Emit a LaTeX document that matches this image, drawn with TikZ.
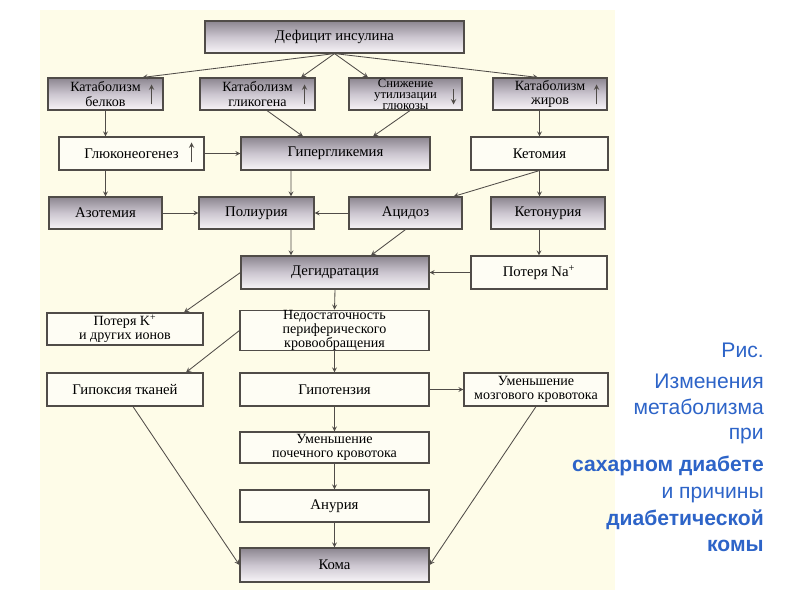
\documentclass[tikz,border=0pt]{standalone}
\usepackage{fontspec}
\setmainfont{Liberation Serif}
\newfontfamily\capfont{Liberation Sans}
\usetikzlibrary{arrows,positioning,calc}
\definecolor{cream}{RGB}{254,252,232}
\definecolor{plainfill}{RGB}{254,253,244}
\definecolor{boxline}{RGB}{80,76,72}
\definecolor{shadetop}{RGB}{140,134,144}
\definecolor{shademid}{RGB}{204,198,208}
\definecolor{shadebot}{RGB}{248,245,248}
\definecolor{capblue}{RGB}{45,100,200}
\newcommand{\px}{0.025cm}

\begin{document}
\begin{tikzpicture}[
  x=\px, y=-\px,
  box/.style={draw=boxline, fill=plainfill, line width=0.8pt, align=center, inner sep=1pt,
    font=\fontsize{10.5}{11.5}\selectfont},
  shadebox/.style={box, top color=shadetop, bottom color=shadebot, middle color=shademid},
  twoline/.style={inner sep=0.5pt, font=\fontsize{10}{10}\selectfont},
  threeline/.style={inner sep=0pt, font=\fontsize{9}{7.8}\selectfont},
  sz/.style 2 args={minimum width=#1*\px, minimum height=#2*\px},
  ptr/.style={->, >=stealth, line width=0.6pt, draw=boxline},
  updn/.style={->, >=stealth, line width=0.7pt, draw=boxline},
  caption/.style={align=right, inner sep=0pt, text=capblue,
    font=\capfont\fontsize{15}{18}\selectfont}
]
\fill[white] (0,0) rectangle (800,600);
\fill[cream] (40,10) rectangle (615,590);
\useasboundingbox (0,0) rectangle (800,600);

\node[shadebox, sz={259}{32}] (def) at (334.5,37) {Дефицит инсулина};
\node[shadebox, twoline, sz={115}{32}] (belk) at (105.5,94) {Катаболизм\\белков};
\node[shadebox, twoline, sz={115}{32}] (glik) at (257.5,94) {Катаболизм\\гликогена};
\node[shadebox, threeline, sz={113}{32}] (sniz) at (405.5,94) {Снижение\\утилизации\\глюкозы};
\node[shadebox, twoline, sz={114}{32}] (zhir) at (550,94) {Катаболизм\\жиров};
\node[box, sz={145}{33}] (gluk) at (131.5,153.5) {Глюконеогенез};
\node[shadebox, sz={189}{33}] (hyper) at (335.5,153.5) {Гипергликемия};
\node[box, sz={137}{33}] (ketom) at (539.5,153.5) {Кетомия};
\node[shadebox, sz={113}{32}] (azot) at (105.5,213) {Азотемия};
\node[shadebox, sz={115}{32}] (poli) at (256.5,213) {Полиурия};
\node[shadebox, sz={113}{32}] (acid) at (405.5,213) {Ацидоз};
\node[shadebox, sz={114}{32}] (ketur) at (548,213) {Кетонурия};
\node[shadebox, sz={188}{33}] (dehyd) at (335,272.5) {Дегидратация};
\node[box, sz={136}{33}] (na) at (539,272.5) {Потеря Na\textsuperscript{+}};
\node[box, twoline, sz={156}{32}] (kpot) at (125,329) {Потеря K\textsuperscript{+}\\и других ионов};
\node[box, threeline, font=\fontsize{10}{8.6}\selectfont, sz={189}{35}] (nedost) at (334.5,330.5) {Недостаточность\\периферического\\кровообращения};
\node[box, sz={156}{33}] (hypox) at (125,389.5) {Гипоксия тканей};
\node[box, sz={189}{33}] (hypot) at (334.5,389.5) {Гипотензия};
\node[box, twoline, sz={144}{33}] (mozg) at (536,389.5) {Уменьшение\\мозгового кровотока};
\node[box, twoline, sz={189}{31}] (poch) at (334.5,447.5) {Уменьшение\\почечного кровотока};
\node[box, sz={189}{32}] (anur) at (334.5,506) {Анурия};
\node[shadebox, sz={189}{34}] (koma) at (334.5,565) {Кома};

\draw[updn] ($(belk.north east)+(-12,27)$) -- ++(0,-20);
\draw[updn] ($(glik.north east)+(-11,27)$) -- ++(0,-20);
\draw[updn] ($(sniz.north east)+(-9,12)$) -- ++(0,15);
\draw[updn] ($(zhir.north east)+(-11,27)$) -- ++(0,-20);
\draw[updn] ($(gluk.north east)+(-13,26)$) -- ++(0,-20);

\draw[ptr] (def.south) -- ($(belk.north)+(37,0)$);
\draw[ptr] (def.south) -- ($(glik.north)+(43.5,0)$);
\draw[ptr] (def.south) -- ($(sniz.north)+(-37.5,0)$);
\draw[ptr] (def.south) -- ($(zhir.north)+(-12,0)$);
\draw[ptr] (belk.south) -- (belk.south |- gluk.north);
\draw[ptr] ($(glik.south)+(9.5,0)$) -- ($(hyper.north)+(-32.5,0)$);
\draw[ptr] ($(sniz.south)+(4.5,0)$) -- ($(hyper.north)+(37.5,0)$);
\draw[ptr] (ketom.north |- zhir.south) -- (ketom.north);
\draw[ptr] (gluk.east) -- (hyper.west);
\draw[ptr] (azot.north |- gluk.south) -- (azot.north);
\draw[ptr] ($(hyper.south)+(-44.5,0)$) -- ($(poli.north)+(34.5,0)$);
\draw[ptr] (ketom.south) -- ($(acid.north east)+(-9,0)$);
\draw[ptr] (ketom.south) -- (ketom.south |- ketur.north);
\draw[ptr] (azot.east) -- (poli.west);
\draw[ptr] (acid.west) -- (poli.east);
\draw[ptr] ($(poli.south)+(34.5,0)$) -- ($(dehyd.north)+(-44,0)$);
\draw[ptr] (acid.south) -- ($(dehyd.north)+(36,0)$);
\draw[ptr] (na.north |- ketur.south) -- (na.north);
\draw[ptr] (na.west) -- (dehyd.east);
\draw[ptr] (dehyd.west) -- ($(kpot.north)+(59,0)$);
\draw[ptr] (dehyd.south) -- (nedost.north);
\draw[ptr] (nedost.west) -- ($(hypox.north)+(61,0)$);
\draw[ptr] (nedost.south) -- (hypot.north);
\draw[ptr] (hypot.east) -- (mozg.west);
\draw[ptr] (hypot.south) -- (poch.north);
\draw[ptr] (poch.south) -- (anur.north);
\draw[ptr] (anur.south) -- (koma.north);
\draw[ptr] ($(hypox.south)+(8,0)$) -- (koma.west);
\draw[ptr] (mozg.south) -- (koma.east);

\node[caption, anchor=north east] (cap) at (764,343) {Рис.\\[4pt]
  Изменения\\метаболизма\\при\\[5pt]
  \textbf{сахарном диабете}\\[1pt]
  и причины\\[1pt]
  \textbf{диабетической}\\[1pt]
  \textbf{комы}};
\end{tikzpicture}
\end{document}
